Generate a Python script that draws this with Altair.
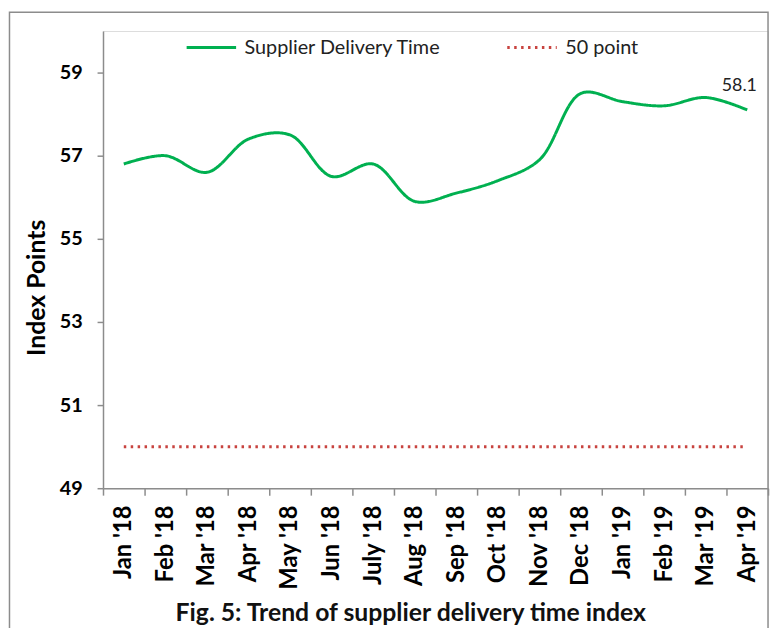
import altair as alt
import pandas as pd

months = ["Jan '18", "Feb '18", "Mar '18", "Apr '18", "May '18", "Jun '18",
          "July '18", "Aug '18", "Sep '18", "Oct '18", "Nov '18", "Dec '18",
          "Jan '19", "Feb '19", "Mar '19", "Apr '19"]
supplier_delivery = [56.8, 57.0, 56.6, 57.4, 57.5, 56.5, 56.8, 55.9,
                     56.1, 56.4, 56.9, 58.5, 58.3, 58.2, 58.4, 58.1]
fifty_point = [50, 50, 50, 50, 50, 50, 50, 50, 50, 50, 50, 50, 50, 50, 50, 50]
series_names = ["Supplier Delivery Time", "50 point"]
series_colors = ["#00B050", "#C8433F"]
y_ticks = [49, 51, 53, 55, 57, 59]
y_domain = [49, 60]
last_label = "58.1"

rows = []
for m, v in zip(months, supplier_delivery):
    rows.append({"month": m, "value": v, "series": series_names[0]})
for m, v in zip(months, fifty_point):
    rows.append({"month": m, "value": v, "series": series_names[1]})
df = pd.DataFrame(rows)

FONT = "Lato"
GRAY = "#8c8c8c"

legend = alt.Legend(
    title=None, orient="none", legendX=83, legendY=-10, direction="horizontal",
    symbolType="stroke", symbolSize=2500, symbolStrokeWidth=3,
    labelFont=FONT, labelFontSize=20, labelColor="#222222", labelLimit=400,
    columnPadding=60, labelOffset=7, padding=0,
)

x_enc = alt.X(
    "month:N", sort=months,
    scale=alt.Scale(domain=months, paddingInner=0, paddingOuter=0),
    axis=alt.Axis(
        title=None, labelAngle=270, labelAlign="right", labelBaseline="middle",
        labelFont=FONT, labelFontSize=24, labelFontWeight="bold", labelColor="#000000",
        labelPadding=10, tickSize=7, tickColor=GRAY, domainColor=GRAY,
        tickBand="extent", grid=False, domainWidth=1.5, tickWidth=1.5,
    ),
)
y_enc = alt.Y(
    "value:Q",
    scale=alt.Scale(domain=y_domain, nice=False, zero=False),
    axis=alt.Axis(
        values=y_ticks, title="Index Points", titleFont=FONT, titleFontSize=25,
        titleFontWeight="bold", titleColor="#000000", titleX=-59, titleY=259,
        titleAngle=270, titleBaseline="alphabetic", titleAlign="center",
        labelFont=FONT, labelFontSize=20, labelFontWeight="bold", labelColor="#000000",
        labelPadding=15, tickSize=6, tickColor=GRAY, domainColor=GRAY, grid=False,
        domainWidth=1.5, tickWidth=1.5,
    ),
)
color_enc = alt.Color("series:N", scale=alt.Scale(domain=series_names, range=series_colors),
                      legend=legend)
dash_enc = alt.StrokeDash("series:N", scale=alt.Scale(domain=series_names, range=[[1, 0], [2.5, 4.5]]),
                          legend=legend)

base = alt.Chart(df)

green = base.transform_filter(alt.datum.series == series_names[0]).mark_line(
    interpolate="catmull-rom", strokeWidth=3
).encode(x=x_enc, y=y_enc, color=color_enc, strokeDash=dash_enc)

red = base.transform_filter(alt.datum.series == series_names[1]).mark_line(
    strokeWidth=3
).encode(x=x_enc, y=y_enc, color=color_enc, strokeDash=dash_enc)

label = base.transform_filter(
    (alt.datum.series == series_names[0]) & (alt.datum.month == months[-1])
).mark_text(font=FONT, fontSize=18, color="#222222", dx=-8, dy=-24, baseline="middle").encode(
    x=x_enc, y=y_enc, text=alt.value(last_label)
)

frame = alt.Chart(pd.DataFrame({"a": [0]})).mark_rect(
    fill="transparent", stroke=GRAY, strokeWidth=1.5
).encode(x=alt.value(-94.5), x2=alt.value(672), y=alt.value(-19), y2=alt.value(605))

chart = alt.layer(frame, red, green, label).properties(
    width=672, height=462,
    padding={"left": 96, "top": 20, "right": 3, "bottom": 138},
    autosize=alt.AutoSizeParams(type="none"),
    title=alt.TitleParams(
        "Fig. 5: Trend of supplier delivery time index", orient="bottom",
        anchor="middle", dx=-25, font=FONT, fontSize=25, fontWeight="bold",
        color="#111111", offset=-10, baseline="alphabetic",
    ),
).configure_view(stroke=None).configure(background="white")

chart.save("out.html", embed_options={"renderer": "svg", "actions": False})
